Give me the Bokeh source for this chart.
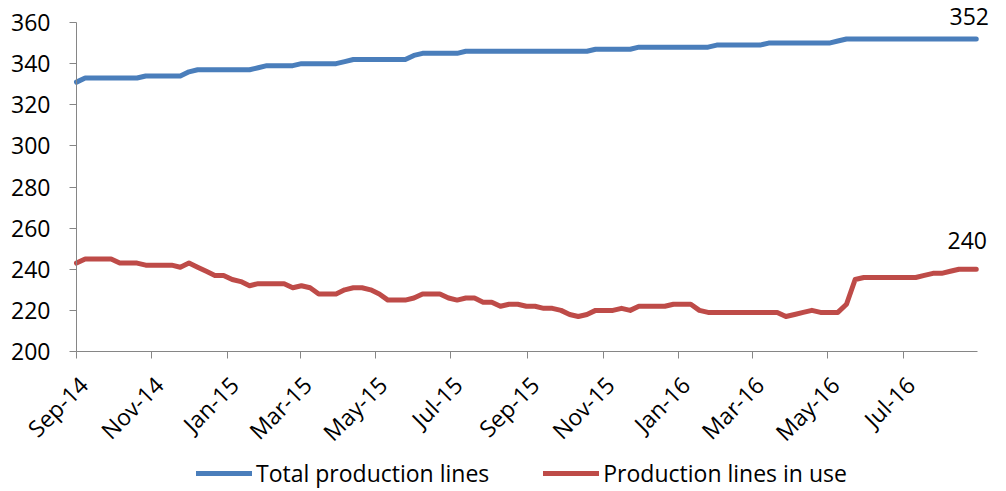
import pandas as pd
from math import pi
from bokeh.plotting import figure
from bokeh.models import (FixedTicker, DatetimeTickFormatter, DatetimeAxis, Legend,
                          LegendItem, Range1d, Label)
from bokeh.embed import file_html
from bokeh.resources import INLINE

# ---- data (weekly) ----
start_date = "2014-09-01"
axis_end_date = "2016-08-30"

total_lines = [
    331, 333, 333, 333, 333, 333, 333, 333, 334, 334,
    334, 334, 334, 336, 337, 337, 337, 337, 337, 337,
    337, 338, 339, 339, 339, 339, 340, 340, 340, 340,
    340, 341, 342, 342, 342, 342, 342, 342, 342, 344,
    345, 345, 345, 345, 345, 346, 346, 346, 346, 346,
    346, 346, 346, 346, 346, 346, 346, 346, 346, 346,
    347, 347, 347, 347, 347, 348, 348, 348, 348, 348,
    348, 348, 348, 348, 349, 349, 349, 349, 349, 349,
    350, 350, 350, 350, 350, 350, 350, 350, 351, 352,
    352, 352, 352, 352, 352, 352, 352, 352, 352, 352,
    352, 352, 352, 352, 352,
]

lines_in_use = [
    243, 245, 245, 245, 245, 243, 243, 243, 242, 242,
    242, 242, 241, 243, 241, 239, 237, 237, 235, 234,
    232, 233, 233, 233, 233, 231, 232, 231, 228, 228,
    228, 230, 231, 231, 230, 228, 225, 225, 225, 226,
    228, 228, 228, 226, 225, 226, 226, 224, 224, 222,
    223, 223, 222, 222, 221, 221, 220, 218, 217, 218,
    220, 220, 220, 221, 220, 222, 222, 222, 222, 223,
    223, 223, 220, 219, 219, 219, 219, 219, 219, 219,
    219, 219, 217, 218, 219, 220, 219, 219, 219, 223,
    235, 236, 236, 236, 236, 236, 236, 236, 237, 238,
    238, 239, 240, 240, 240,
]

series_names = ["Total production lines", "Production lines in use"]
series_colors = ["#4A7EBB", "#BE4B48"]

tick_dates = ["2014-09-01", "2014-11-01", "2015-01-01", "2015-03-01",
              "2015-05-01", "2015-07-01", "2015-09-01", "2015-11-01",
              "2016-01-01", "2016-03-01", "2016-05-01", "2016-07-01"]
y_ticks = [200, 220, 240, 260, 280, 300, 320, 340, 360]

dates = pd.date_range(start_date, periods=len(total_lines), freq="7D")

FONT = "Open Sans"
FS = "23px"
AXIS_COLOR = "#868686"

# ---- layout geometry (pixels inside the figure) ----
W, H = 1002, 489
PLOT_L, PLOT_R = 76, 977      # axis area, left/right
PLOT_T, PLOT_B = 22, 351      # axis area, top/bottom
LABEL_SHIFT_PX = 7            # x-tick labels sit a little right of their ticks

t0 = pd.Timestamp(start_date).value / 1e6
t1 = pd.Timestamp(axis_end_date).value / 1e6
ms_per_px = (t1 - t0) / (PLOT_R - PLOT_L)
y_lo, y_hi = y_ticks[0], y_ticks[-1]
u_per_px = (y_hi - y_lo) / (PLOT_B - PLOT_T)

x_range = Range1d(t0 - PLOT_L * ms_per_px, t1 + (W - PLOT_R) * ms_per_px)
y_range = Range1d(y_lo - (H - PLOT_B) * u_per_px, y_hi + PLOT_T * u_per_px)

p = figure(width=W, height=H, x_axis_type="datetime",
           output_backend="svg", toolbar_location=None,
           x_range=x_range, y_range=y_range,
           min_border_left=0, min_border_right=0,
           min_border_top=0, min_border_bottom=0)

r1 = p.line(dates, total_lines, line_width=5, line_color=series_colors[0],
            line_join="round", line_cap="round")
r2 = p.line(dates, lines_in_use, line_width=5, line_color=series_colors[1],
            line_join="round", line_cap="round")

tick_ms = [pd.Timestamp(d).value / 1e6 for d in tick_dates]
fmt = "%b-%y"
formatter = DatetimeTickFormatter(
    microseconds=fmt, milliseconds=fmt, seconds=fmt, minsec=fmt, minutes=fmt,
    hourmin=fmt, hours=fmt, days=fmt, months=fmt, years=fmt)

# x axis: line + ticks (labels drawn by a second axis just below)
xa = p.xaxis[0]
xa.ticker = FixedTicker(ticks=tick_ms)
xa.formatter = formatter
xa.fixed_location = y_lo
xa.bounds = (t0, t1)
xa.major_label_text_color = None

xl = DatetimeAxis(ticker=FixedTicker(ticks=[t + LABEL_SHIFT_PX * ms_per_px for t in tick_ms]),
                  formatter=formatter, fixed_location=y_lo, bounds=(t0, t1),
                  axis_line_color=None, major_tick_line_color=None,
                  minor_tick_line_color=None, major_tick_in=0, major_tick_out=7,
                  major_label_standoff=22, major_label_orientation=pi / 4,
                  major_label_text_font=FONT, major_label_text_font_size=FS,
                  major_label_text_color="#000000")
p.add_layout(xl, "below")

ya = p.yaxis[0]
ya.ticker = FixedTicker(ticks=y_ticks)
ya.fixed_location = t0
ya.bounds = (y_lo, y_hi)
ya.major_label_standoff = 19
ya.major_label_text_color = "#000000"

for ax in (xa, ya):
    ax.axis_line_color = AXIS_COLOR
    ax.axis_line_width = 1
    ax.major_tick_line_color = AXIS_COLOR
    ax.major_tick_in = 0
    ax.major_tick_out = 7
    ax.minor_tick_line_color = None
    ax.major_label_text_font = FONT
    ax.major_label_text_font_size = FS

p.grid.visible = False
p.outline_line_color = None
p.background_fill_color = "white"
p.border_fill_color = "white"

# end-point data labels
p.add_layout(Label(x=dates[-1].value / 1e6, y=total_lines[-1], text=str(total_lines[-1]),
                   x_offset=-7, y_offset=22, text_align="center", text_baseline="middle",
                   text_font=FONT, text_font_size=FS, text_color="#000000"))
p.add_layout(Label(x=dates[-1].value / 1e6, y=lines_in_use[-1], text=str(lines_in_use[-1]),
                   x_offset=-9, y_offset=29, text_align="center", text_baseline="middle",
                   text_font=FONT, text_font_size=FS, text_color="#000000"))

legend = Legend(items=[LegendItem(label=series_names[0], renderers=[r1]),
                       LegendItem(label=series_names[1], renderers=[r2])],
                orientation="horizontal", location=(PLOT_L + 120, 0),
                glyph_width=56, glyph_height=20, label_standoff=4, spacing=54,
                label_text_font=FONT, label_text_font_size=FS,
                label_text_color="#000000",
                border_line_alpha=0, background_fill_alpha=0,
                margin=0, padding=0)
p.add_layout(legend, "center")

open("out.html", "w").write(file_html(p, INLINE))
